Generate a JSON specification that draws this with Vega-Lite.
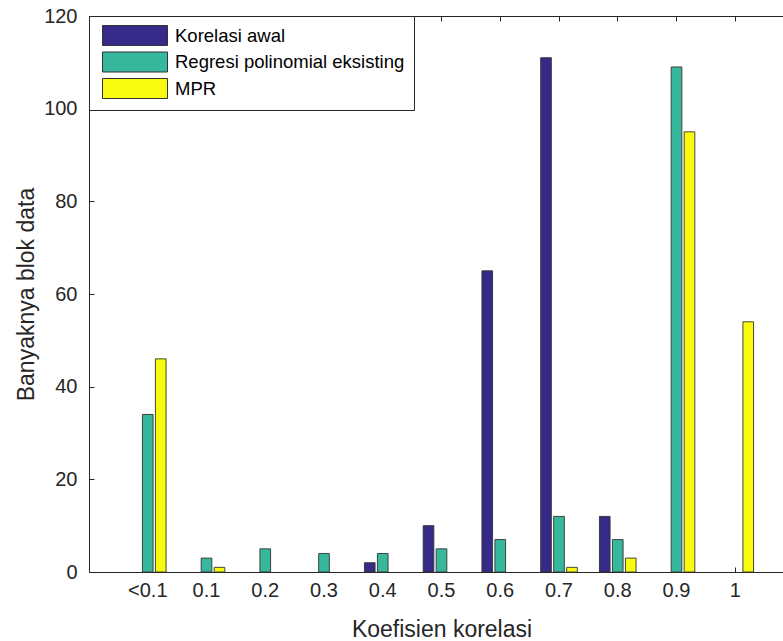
{
  "$schema": "https://vega.github.io/schema/vega-lite/v6.json",
  "width": 694,
  "height": 556,
  "autosize": {"type": "none"},
  "padding": {"left": 89, "top": 16, "right": 0, "bottom": 69},
  "background": "white",
  "config": {
    "font": "Liberation Sans",
    "view": {"stroke": null},
    "axis": {"labelFont": "Liberation Sans", "titleFont": "Liberation Sans", "labelColor": "#262626", "titleColor": "#262626", "domainColor": "#262626", "tickColor": "#262626", "grid": false}
  },
  "data": {
    "values": [
      {"k": "<0.1", "s": "Korelasi awal", "v": 0},
      {"k": "<0.1", "s": "Regresi polinomial eksisting", "v": 34},
      {"k": "<0.1", "s": "MPR", "v": 46},
      {"k": "0.1", "s": "Korelasi awal", "v": 0},
      {"k": "0.1", "s": "Regresi polinomial eksisting", "v": 3},
      {"k": "0.1", "s": "MPR", "v": 1},
      {"k": "0.2", "s": "Korelasi awal", "v": 0},
      {"k": "0.2", "s": "Regresi polinomial eksisting", "v": 5},
      {"k": "0.2", "s": "MPR", "v": 0},
      {"k": "0.3", "s": "Korelasi awal", "v": 0},
      {"k": "0.3", "s": "Regresi polinomial eksisting", "v": 4},
      {"k": "0.3", "s": "MPR", "v": 0},
      {"k": "0.4", "s": "Korelasi awal", "v": 2},
      {"k": "0.4", "s": "Regresi polinomial eksisting", "v": 4},
      {"k": "0.4", "s": "MPR", "v": 0},
      {"k": "0.5", "s": "Korelasi awal", "v": 10},
      {"k": "0.5", "s": "Regresi polinomial eksisting", "v": 5},
      {"k": "0.5", "s": "MPR", "v": 0},
      {"k": "0.6", "s": "Korelasi awal", "v": 65},
      {"k": "0.6", "s": "Regresi polinomial eksisting", "v": 7},
      {"k": "0.6", "s": "MPR", "v": 0},
      {"k": "0.7", "s": "Korelasi awal", "v": 111},
      {"k": "0.7", "s": "Regresi polinomial eksisting", "v": 12},
      {"k": "0.7", "s": "MPR", "v": 1},
      {"k": "0.8", "s": "Korelasi awal", "v": 12},
      {"k": "0.8", "s": "Regresi polinomial eksisting", "v": 7},
      {"k": "0.8", "s": "MPR", "v": 3},
      {"k": "0.9", "s": "Korelasi awal", "v": 0},
      {"k": "0.9", "s": "Regresi polinomial eksisting", "v": 109},
      {"k": "0.9", "s": "MPR", "v": 95},
      {"k": "1", "s": "Korelasi awal", "v": 0},
      {"k": "1", "s": "Regresi polinomial eksisting", "v": 0},
      {"k": "1", "s": "MPR", "v": 54}
    ]
  },
  "resolve": {"axis": {"x": "independent"}},
  "layer": [
    {
      "transform": [{"filter": "datum.v > 0"}],
      "mark": {"type": "bar", "stroke": "#333333", "strokeWidth": 1, "strokeOpacity": 0.9},
      "encoding": {
        "x": {
          "field": "k", "type": "nominal",
          "sort": ["<0.1", "0.1", "0.2", "0.3", "0.4", "0.5", "0.6", "0.7", "0.8", "0.9", "1"],
          "scale": {"domain": ["<0.1", "0.1", "0.2", "0.3", "0.4", "0.5", "0.6", "0.7", "0.8", "0.9", "1"], "range": [0, 705], "paddingInner": 0, "paddingOuter": 0.5},
          "axis": {"orient": "bottom", "labelAngle": 0, "labelFontSize": 20, "labelPadding": 13, "tickSize": -5, "tickBand": "center", "title": "Koefisien korelasi", "titleFontSize": 23, "titleFontWeight": "normal", "titlePadding": 18}
        },
        "xOffset": {
          "field": "s", "type": "nominal",
          "sort": ["Korelasi awal", "Regresi polinomial eksisting", "MPR"],
          "scale": {"domain": ["Korelasi awal", "Regresi polinomial eksisting", "MPR"], "paddingInner": 0.18, "paddingOuter": 0.85}
        },
        "y": {
          "field": "v", "type": "quantitative",
          "scale": {"domain": [0, 120], "nice": false},
          "axis": {"values": [0, 20, 40, 60, 80, 100, 120], "labelFontSize": 20, "labelPadding": 17, "tickSize": -5, "title": "Banyaknya blok data", "titleFontSize": 23, "titleFontWeight": "normal", "titlePadding": 5}
        },
        "color": {
          "field": "s", "type": "nominal",
          "sort": ["Korelasi awal", "Regresi polinomial eksisting", "MPR"],
          "scale": {"domain": ["Korelasi awal", "Regresi polinomial eksisting", "MPR"], "range": ["#352A87", "#37B89D", "#F9FB0E"]},
          "legend": {
            "title": null,
            "orient": "none",
            "legendX": 0,
            "legendY": 0,
            "symbolType": "M-0.6,-1H5.9V1H-0.6Z",
            "symbolSize": 400,
            "symbolStrokeColor": "#333333",
            "symbolStrokeWidth": 1,
            "labelFontSize": 18.5,
            "labelFont": "Liberation Sans",
            "labelColor": "#000000",
            "labelLimit": 400,
            "labelOffset": 56,
            "rowPadding": 1.5,
            "padding": 9,
            "strokeColor": "#262626",
            "fillColor": "white"
          }
        }
      }
    },
    {
      "mark": {"type": "point", "opacity": 0},
      "encoding": {
        "x": {
          "field": "k", "type": "nominal",
          "sort": ["<0.1", "0.1", "0.2", "0.3", "0.4", "0.5", "0.6", "0.7", "0.8", "0.9", "1"],
          "axis": {"orient": "top", "labels": false, "tickSize": -5, "tickBand": "center", "title": null}
        },
        "y": {"datum": 0}
      }
    }
  ]
}
